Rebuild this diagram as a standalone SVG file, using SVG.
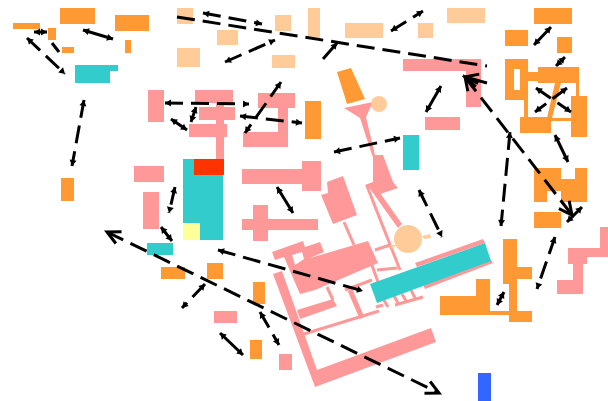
<svg xmlns="http://www.w3.org/2000/svg" width="608" height="401" viewBox="0 0 608 401">
<style>
.o{fill:#ff9933}.l{fill:#ffcc99}.p{fill:#ff9999}.t{fill:#33cccc}.r{fill:#ff3300}.y{fill:#ffff99}.b{fill:#3366ff}
.ps{stroke:#ff9999;fill:none}
.c path{fill:none;stroke:#000;stroke-width:3}
.s{stroke-dasharray:18 8;marker-start:url(#hs);marker-end:url(#hs)}
.u{marker-start:url(#hs);marker-end:url(#hs)}
.g{stroke-dasharray:18 8;marker-start:url(#hb);marker-end:url(#hb)}
.e{stroke-dasharray:18 8;marker-end:url(#hb)}
.m{marker-end:url(#hs)}
</style>
<defs>
<marker id="hs" markerUnits="userSpaceOnUse" markerWidth="10" markerHeight="10" refX="7" refY="5" orient="auto-start-reverse"><path d="M1,1.5 L7,5 L1,8.5 Z" fill="#000"/></marker>
<marker id="hb" markerUnits="userSpaceOnUse" markerWidth="18" markerHeight="18" refX="15" refY="9" orient="auto-start-reverse"><path d="M2,2.5 L15,9 L2,15.5" fill="none" stroke="#000" stroke-width="3"/></marker>
</defs>
<g id="top-left">
<g id="n1"><rect class="o" x="13" y="23" width="27" height="6"/></g>
<g id="n2"><rect class="o" x="60" y="8" width="35" height="16"/></g>
<g id="n3"><rect class="o" x="115" y="15" width="34" height="16"/></g>
<g id="n4"><rect class="o" x="48" y="28" width="8" height="12"/></g>
<g id="n5"><rect class="o" x="62" y="47" width="12" height="6"/></g>
<g id="n6"><rect class="o" x="125" y="40" width="6" height="13"/></g>
<g id="n7"><path class="t" d="M75,65H118V71H110V83H75Z"/></g>
<g id="n8"><rect class="o" x="61" y="178" width="13" height="23"/></g>
</g>
<g id="top-middle">
<g id="n9"><rect class="l" x="177" y="8" width="16" height="16"/></g>
<g id="n10"><rect class="l" x="217" y="30" width="21" height="15"/></g>
<g id="n11"><rect class="l" x="177" y="48" width="23" height="19"/></g>
<g id="n12"><rect class="l" x="275" y="15" width="16" height="16"/></g>
<g id="n13"><rect class="l" x="272" y="55" width="23" height="13"/></g>
<g id="n14"><rect class="l" x="308" y="8" width="12" height="30"/></g>
<g id="n15"><rect class="l" x="345" y="23" width="38" height="15"/></g>
<g id="n16"><rect class="l" x="418" y="23" width="15" height="15"/></g>
<g id="n17"><rect class="l" x="447" y="8" width="38" height="15"/></g>
</g>
<g id="middle-left">
<g id="n18"><rect class="p" x="148" y="90" width="16" height="32"/></g>
<g id="n19"><path class="p" d="M195,90H233V103H224V107H235V120H224V124H227V137H224V159H216V137H189V124H216V120H199V107H216V103H195Z"/></g>
<g id="n20"><path class="p" d="M258,93H295V108H288V147H243V132H278V108H258Z"/></g>
<g id="n21"><rect class="o" x="305" y="101" width="16" height="38"/></g>
<g id="n22"><rect class="p" x="134" y="166" width="30" height="16"/></g>
<g id="n23"><rect class="p" x="143" y="192" width="16" height="37"/></g>
<g id="n24"><rect class="t" x="183" y="159" width="40" height="81"/><rect class="r" x="194" y="159" width="30" height="16"/><rect class="y" x="183" y="223" width="17" height="17"/></g>
<g id="n25"><path class="p" d="M242,169H302V161H321V191H302V184H242Z"/></g>
<g id="n26"><path class="p" d="M253,205H268V219H318V230H268V241H253V230H242V219H253Z"/></g>
<g id="n27"><rect class="t" x="147" y="243" width="26" height="12"/></g>
<g id="n28"><rect class="o" x="161" y="267" width="24" height="12"/></g>
<g id="n29"><rect class="o" x="207" y="263" width="16" height="16"/></g>
<g id="n30"><rect class="o" x="253" y="282" width="12" height="22"/></g>
<g id="n31"><rect class="p" x="214" y="311" width="23" height="12"/></g>
<g id="n32"><rect class="o" x="250" y="340" width="12" height="19"/></g>
<g id="n33"><rect class="p" x="279" y="354" width="13" height="16"/></g>
<g id="n34"><rect class="b" x="478" y="373" width="13" height="28"/></g>
</g>
<g id="campus">
<g id="frame"><path class="p" d="M273,274L282,271L317,370L431,328L436,342L315,387Z"/></g>
<g id="main-building"><path class="p" fill-rule="evenodd" d="M272,252L303,241L305,247L320,242L324,252L310,258L368,241L378,263L315,290L300,294L284,257L275,260ZM292,255L302,252L304,259L295,265Z"/></g>
<g id="lower-block"><path class="p" d="M297,310L333,299L337,306L300,319Z"/></g>
<g id="upper-block"><path class="p" d="M327,182L343,176L357,215L333,224L321,195L328,193Z"/></g>
<g id="spine"><path class="p" d="M344,108L373,102L366,117L375,155L383,155L393,182L398,188L377,195L373,185L368,190L365,185L373,182L373,157L372,155L360,118Z"/></g>
<path class="ps" stroke-width="3" d="M344,222L354,245M327,287L333,300M304,334L379,311M345,290L372,280"/>
<path class="ps" stroke-width="5" d="M350,290L362,318"/>
<path class="ps" stroke-width="3" d="M375,250L390,245M377,270L397,268M370,260L378,282M367,186L400,270"/>
<path class="p" d="M368,186L373,183L402,224L398,228Z"/>
<path class="ps" stroke-width="3" d="M395,305L423,297M384,300L388,307M394,296L398,303M402,294L406,301M411,290L415,298M383,305L376,307"/>
<g id="strip-top"><path class="p" d="M415,263L483,239L485,243L417,267Z"/></g>
<g id="strip-bottom"><path class="p" d="M423,285L491,260L493,263L425,289Z"/></g>
<g id="teal-bar"><path class="t" d="M370,284L485,243L491,261L377,303Z"/></g>
<g id="rotunda"><circle class="l" cx="408" cy="239" r="14"/><path class="l" d="M422,236L430,234L431,238L424,239ZM396,245L392,249L390,245Z"/></g>
<g id="tower"><path class="o" d="M337,72L351,68L365,99L347,104Z"/><circle class="l" cx="379" cy="104" r="8"/></g>
</g>
<g id="middle-right">
<g id="n40"><path class="p" d="M403,59H481V107H466V71H403Z"/></g>
<g id="n41"><rect class="p" x="425" y="117" width="35" height="13"/></g>
<g id="n42"><rect class="t" x="403" y="135" width="16" height="35"/></g>
</g>
<g id="right">
<g id="n43"><rect class="o" x="534" y="8" width="38" height="16"/></g>
<g id="n44"><rect class="o" x="505" y="30" width="23" height="16"/></g>
<g id="n45"><rect class="o" x="557" y="37" width="15" height="16"/></g>
<g id="n46"><path class="o" fill-rule="evenodd" d="M505,59H528V100H505ZM514,69V90H520V69Z"/><path class="o" d="M528,72H538V81H528ZM538,67H579V83H538ZM524,100H528V118H524ZM520,117H551V133H520ZM555,83H561L552,118H547ZM551,118H571V121H551ZM576,83H579V97H576ZM571,96H587V137H571Z"/></g>
<g id="n47"><path class="o" d="M534,168H561V179H575V168H587V202H561V191H547V202H534Z"/></g>
<g id="n48"><rect class="o" x="534" y="212" width="27" height="16"/></g>
<g id="n49"><path class="p" d="M600,227H608V257H587V264H583V294H557V280H573V264H568V248H600Z"/></g>
<g id="n50"><path class="o" d="M503,239H517V267H532V279H517V311H532V322H509V315H440V296H476V279H490V311H509V284H503Z"/></g>
</g>
<g id="connectors" class="c">
<path class="u" d="M34,32L47,32"/>
<path class="s" d="M27,38L65,74"/>
<path d="M52,43L59,52"/>
<path class="u" d="M83,30L113,39"/>
<path class="s" d="M84,100L72,166"/>
<path class="s" d="M203,13L262,24"/>
<path d="M177,17L487,66" stroke-dasharray="18 8"/>
<path class="e" d="M487,83L465,77"/>
<path class="g" d="M465,77L572,215"/>
<path class="m" d="M323,59L337,43"/>
<path class="s" d="M225,62L275,40"/>
<path class="s" d="M281,82L245,133"/>
<path class="s" d="M165,103L249,104"/>
<path class="u" d="M191,122L196,107"/>
<path class="u" d="M171,119L187,130"/>
<path class="s" d="M240,116L302,123"/>
<path class="s" d="M175,187L169,213"/>
<path class="u" d="M161,227L172,241"/>
<path class="u" d="M277,187L293,213"/>
<path class="g" d="M107,232L439,393"/>
<path class="s" d="M218,250L363,291"/>
<path class="s" d="M205,284L182,308"/>
<path class="s" d="M260,312L279,345"/>
<path class="u" d="M220,333L243,355"/>
<path class="s" d="M334,152L400,138"/>
<path class="s" d="M391,31L423,11"/>
<path class="u" d="M441,86L426,112"/>
<path class="s" d="M510,132L501,226"/>
<path class="u" d="M551,27L534,45"/>
<path class="u" d="M556,66L565,57"/>
<path class="s" d="M536,88L571,112"/>
<path class="s" d="M567,88L535,112"/>
<path class="u" d="M555,135L568,162"/>
<path class="u" d="M582,207L567,222"/>
<path class="s" d="M555,237L537,289"/>
<path class="u" d="M504,292L497,305"/>
<path class="s" d="M419,190L442,237"/>
</g>
</svg>
